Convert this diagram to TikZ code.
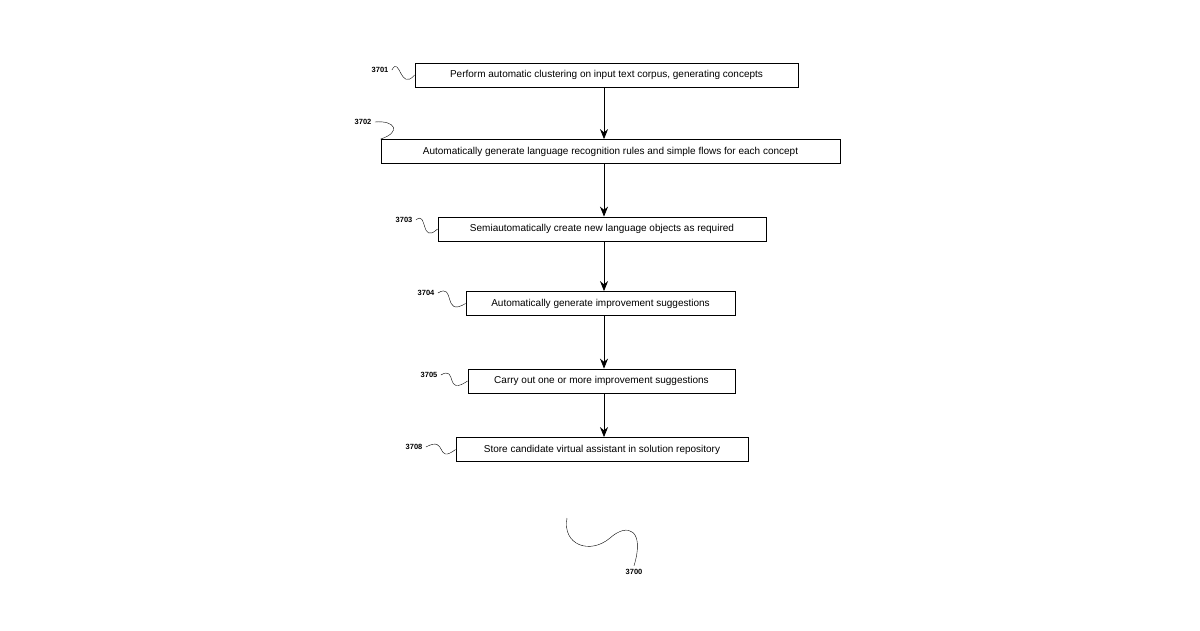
\documentclass[tikz,border=0pt]{standalone}
\usepackage{fontspec}
\setmainfont{Liberation Sans}
\usetikzlibrary{arrows.meta,positioning}

\tikzset{
  stage/.style={draw, thick, minimum height=24pt, inner sep=2pt, font=\fontsize{10}{12}\selectfont},
  ref/.style={font=\fontsize{7.5}{9}\selectfont\bfseries},
  flow/.style={thick, -{Stealth[length=10pt,width=8pt]}},
  squig/.style={thin}
}

\begin{document}
\begin{tikzpicture}[x=1pt, y=-1pt]
  \useasboundingbox (0,0) rectangle (1200,630);
  % steps
  \node (s3701) [stage, minimum width=383pt] at (606.5,75)  {Perform automatic clustering on input text corpus, generating concepts};
  \node (s3702) [stage, minimum width=459pt] at (610.5,151.5) {Automatically generate language recognition rules and simple flows for each concept};
  \node (s3703) [stage, minimum width=328pt] at (602,229)   {Semiautomatically create new language objects as required};
  \node (s3704) [stage, minimum width=269pt] at (600.5,303.5) {Automatically generate improvement suggestions};
  \node (s3705) [stage, minimum width=267pt] at (601.5,381) {Carry out one or more improvement suggestions};
  \node (s3708) [stage, minimum width=292pt] at (602,449.5) {Store candidate virtual assistant in solution repository};
  \coordinate (axis) at (604,0);
  \foreach \a/\b in {s3701/s3702, s3702/s3703, s3703/s3704, s3704/s3705, s3705/s3708}
    \draw[flow] (\a.south -| axis) -- (\b.north -| axis);
  % reference numerals
  \node (l3701) [ref] at (380,70)  {3701};
  \node (l3702) [ref] at (363,122) {3702};
  \node (l3703) [ref] at (404,220) {3703};
  \node (l3704) [ref] at (426,293) {3704};
  \node (l3705) [ref] at (429,375) {3705};
  \node (l3708) [ref] at (414,447) {3708};
  \node (l3700) [ref] at (634,572) {3700};
  \draw[squig] (l3701.east) .. controls (400,55) and (400,92) .. (s3701.west);
  \draw[squig] (l3702.east) .. controls (395,120) and (402,132) .. (s3702.north west);
  \draw[squig] (l3703.east) .. controls (428,210) and (420,245) .. (s3703.west);
  \draw[squig] (l3704.east) .. controls (456,282) and (442,318) .. (s3704.west);
  \draw[squig] (l3705.east) .. controls (458,365) and (444,397) .. (s3705.west);
  \draw[squig] (l3708.east) .. controls (448,435) and (435,465) .. (s3708.west);
  \coordinate (tail) at (567,518);
  \draw[squig] (tail) .. controls (562,545) and (590,555) .. (610,538)
                      .. controls (628,522) and (645,530) .. (l3700.north);
\end{tikzpicture}
\end{document}
